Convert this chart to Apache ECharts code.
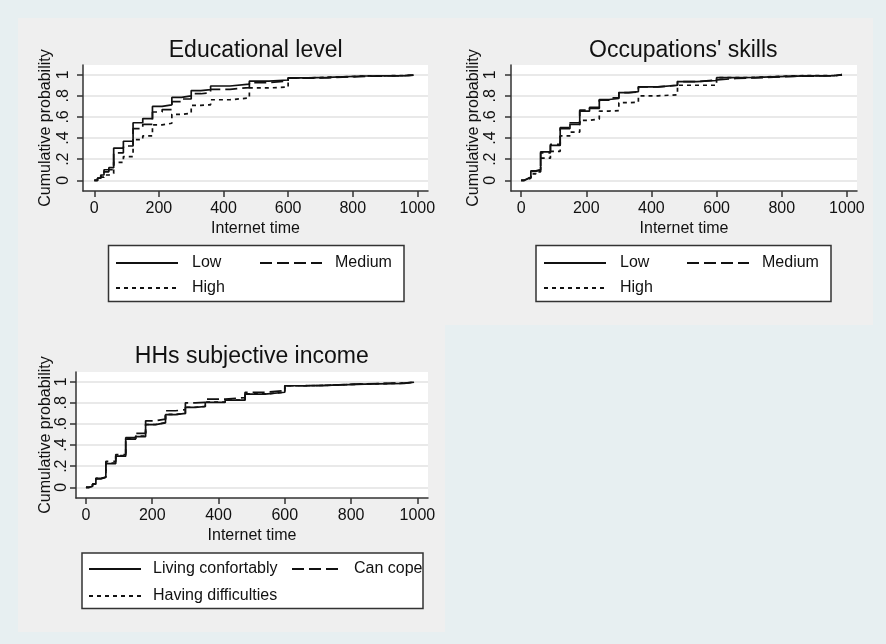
<!DOCTYPE html>
<html>
<head>
<meta charset="utf-8">
<script src="https://cdn.jsdelivr.net/npm/echarts@6/dist/echarts.min.js"></script>
<style>
  html, body { margin: 0; padding: 0; background: #e7eff1; }
  #chart { width: 886px; height: 644px; }
</style>
</head>
<body>
<div id="chart"></div>
<script>
// Empirical cumulative distributions of internet time (minutes), by group

// Panel: Educational level
const eduTime   = [0, 10, 20, 30, 45, 60, 90, 120, 150, 180, 210, 240, 270, 300, 330, 360, 420, 480, 540, 600, 660, 720, 840, 960, 988];
const eduLow    = [0, 0.02, 0.05, 0.10, 0.12, 0.305, 0.37, 0.545, 0.585, 0.70, 0.715, 0.785, 0.80, 0.85, 0.858, 0.893, 0.91, 0.94, 0.95, 0.97, 0.975, 0.988, 0.992, 0.997, 1];
const eduMedium = [0, 0.02, 0.04, 0.08, 0.10, 0.26, 0.325, 0.49, 0.53, 0.647, 0.67, 0.745, 0.77, 0.82, 0.83, 0.862, 0.878, 0.925, 0.94, 0.967, 0.97, 0.985, 0.99, 0.996, 1];
const eduHigh   = [0, 0.01, 0.03, 0.05, 0.065, 0.17, 0.225, 0.385, 0.42, 0.525, 0.54, 0.625, 0.635, 0.71, 0.715, 0.763, 0.78, 0.875, 0.883, 0.97, 0.975, 0.988, 0.992, 0.996, 1];

// Panel: Occupations' skills
const occTime   = [0, 10, 20, 30, 45, 60, 90, 120, 150, 180, 210, 240, 270, 300, 330, 360, 420, 480, 540, 600, 660, 720, 840, 962, 985];
const occLow    = [0, 0.015, 0.03, 0.09, 0.10, 0.27, 0.33, 0.49, 0.53, 0.655, 0.68, 0.765, 0.775, 0.83, 0.84, 0.885, 0.90, 0.935, 0.945, 0.972, 0.975, 0.987, 0.992, 1, 1];
const occMedium = [0, 0.015, 0.03, 0.085, 0.10, 0.26, 0.34, 0.50, 0.545, 0.665, 0.69, 0.76, 0.78, 0.83, 0.835, 0.885, 0.90, 0.935, 0.95, 0.965, 0.97, 0.985, 0.99, 1, 1];
const occHigh   = [0, 0.01, 0.02, 0.06, 0.08, 0.21, 0.274, 0.42, 0.457, 0.568, 0.58, 0.656, 0.66, 0.735, 0.74, 0.80, 0.81, 0.90, 0.90, 0.972, 0.975, 0.99, 0.993, 0.996, 1];

// Panel: HHs subjective income
const incTime        = [0, 10, 20, 30, 45, 60, 90, 120, 150, 180, 210, 240, 270, 300, 330, 360, 420, 480, 540, 600, 660, 720, 840, 960, 990];
const incComfortable = [0, 0.01, 0.03, 0.085, 0.095, 0.225, 0.295, 0.457, 0.48, 0.593, 0.61, 0.688, 0.70, 0.757, 0.765, 0.805, 0.826, 0.883, 0.90, 0.962, 0.965, 0.978, 0.985, 0.995, 1];
const incCope        = [0, 0.01, 0.03, 0.08, 0.095, 0.245, 0.31, 0.47, 0.51, 0.63, 0.645, 0.725, 0.735, 0.80, 0.805, 0.835, 0.85, 0.90, 0.915, 0.962, 0.965, 0.98, 0.988, 0.996, 1];
const incDifficult   = [0, 0.01, 0.03, 0.085, 0.095, 0.23, 0.30, 0.46, 0.485, 0.595, 0.612, 0.69, 0.70, 0.758, 0.766, 0.806, 0.827, 0.884, 0.90, 0.962, 0.965, 0.978, 0.986, 0.995, 1];

// Axis tick values and labels
const xTicks = [0, 200, 400, 600, 800, 1000];
const xTickText = ['0', '200', '400', '600', '800', '1000'];
const yTicks = [0, 0.2, 0.4, 0.6, 0.8, 1];
const yTickText = ['0', '.2', '.4', '.6', '.8', '1'];

const panelTitles = ['Educational level', "Occupations' skills", 'HHs subjective income'];
const xTitle = 'Internet time';
const yTitle = 'Cumulative probability';

const FONT = '"Liberation Sans", Arial, Helvetica, sans-serif';
const INK = '#111';
const AXIS = '#333';

function pairs(times, probs) {
  return times.map((t, i) => [t, probs[i]]);
}

function tickText(ticks, texts) {
  return (v) => {
    const k = ticks.findIndex((t) => Math.abs(t - v) < 1e-6);
    return k >= 0 ? texts[k] : '';
  };
}

const grids = [
  { left: 83,  top: 65,  width: 345, height: 126 },
  { left: 511, top: 65,  width: 346, height: 126 },
  { left: 76,  top: 372, width: 352, height: 126 }
];
const xRanges = [[-35, 1033], [-31, 1031], [-30, 1032]];
const yRange = [-0.1013, 1.092];
const yLabelMargin = [11, 12, 6];
const yNameGap = [29, 29, 20];

const dashLong = [12, 5];
const dashShort = [4, 4];

function makeSeries(name, gi, times, probs, type) {
  return {
    name: name,
    type: 'line',
    xAxisIndex: gi,
    yAxisIndex: gi,
    step: 'end',
    symbol: 'none',
    showSymbol: false,
    data: pairs(times, probs),
    lineStyle: { color: INK, width: 1.7, type: type },
    itemStyle: { color: INK },
    emphasis: { disabled: true },
    silent: true
  };
}

const series = [
  makeSeries('High', 0, eduTime, eduHigh, dashShort),
  makeSeries('Medium', 0, eduTime, eduMedium, dashLong),
  makeSeries('Low', 0, eduTime, eduLow, 'solid'),
  makeSeries('High', 1, occTime, occHigh, dashShort),
  makeSeries('Medium', 1, occTime, occMedium, dashLong),
  makeSeries('Low', 1, occTime, occLow, 'solid'),
  makeSeries('Having difficulties', 2, incTime, incDifficult, dashShort),
  makeSeries('Can cope', 2, incTime, incCope, dashLong),
  makeSeries('Living confortably', 2, incTime, incComfortable, 'solid')
];

const xAxes = grids.map((g, i) => ({
  type: 'value',
  gridIndex: i,
  min: xRanges[i][0],
  max: xRanges[i][1],
  axisLine: { show: true, onZero: false, lineStyle: { color: AXIS, width: 1.5 } },
  axisTick: { show: true, length: 6, customValues: xTicks, lineStyle: { color: AXIS, width: 1.5 } },
  axisLabel: {
    customValues: xTicks, margin: 10, fontSize: 16, color: INK, fontFamily: FONT,
    formatter: tickText(xTicks, xTickText)
  },
  splitLine: { show: false },
  name: xTitle,
  nameLocation: 'middle',
  nameGap: 30,
  nameTextStyle: { fontSize: 16, color: INK, fontFamily: FONT }
}));

const yAxes = grids.map((g, i) => ({
  type: 'value',
  gridIndex: i,
  min: yRange[0],
  max: yRange[1],
  axisLine: { show: true, onZero: false, lineStyle: { color: AXIS, width: 1.5 } },
  axisTick: { show: true, length: 6, customValues: yTicks, lineStyle: { color: AXIS, width: 1.5 } },
  axisLabel: {
    customValues: yTicks,
    rotate: 90,
    margin: yLabelMargin[i],
    fontSize: 16,
    color: INK,
    fontFamily: FONT,
    formatter: tickText(yTicks, yTickText)
  },
  splitLine: { show: true, lineStyle: { color: '#e2e2e2', width: 1.5 } },
  name: yTitle,
  nameLocation: 'middle',
  nameGap: yNameGap[i],
  nameTextStyle: { fontSize: 16, color: INK, fontFamily: FONT }
}));

const titlePos = [[255.7, 39], [683.3, 39], [251.8, 345]];
const titles = panelTitles.map((t, i) => ({
  text: t,
  left: titlePos[i][0],
  top: titlePos[i][1],
  textAlign: 'center',
  padding: 0,
  textStyle: { fontSize: 23, fontWeight: 'normal', color: INK, fontFamily: FONT }
}));

function legendItem(name, left, top, width, gap) {
  return {
    data: [name],
    left: left,
    top: top,
    padding: 0,
    itemWidth: width,
    itemHeight: 14,
    selectedMode: false,
    itemStyle: { opacity: 0 },
    textStyle: { fontSize: 16, color: INK, fontFamily: FONT, padding: [0, 0, 0, gap] }
  };
}

const legends = [
  legendItem('Low', 115, 255, 62, 9),
  legendItem('Medium', 259, 255, 62, 8),
  legendItem('High', 115, 280, 62, 9),
  legendItem('Low', 543, 255, 62, 9),
  legendItem('Medium', 686, 255, 62, 8),
  legendItem('High', 543, 280, 62, 9),
  legendItem('Living confortably', 88, 561, 52, 7),
  legendItem('Can cope', 291, 561, 51, 6),
  legendItem('Having difficulties', 88, 588, 52, 7)
];

const panelFill = '#efefef';
const graphics = [
  { type: 'rect', z: -10, silent: true, shape: { x: 18, y: 18, width: 855, height: 307 }, style: { fill: panelFill } },
  { type: 'rect', z: -10, silent: true, shape: { x: 18, y: 325, width: 427, height: 307 }, style: { fill: panelFill } },
  { type: 'rect', z: 1, silent: true, shape: { x: 108.5, y: 245.5, width: 295.5, height: 56 }, style: { fill: '#fff', stroke: AXIS, lineWidth: 1.5 } },
  { type: 'rect', z: 1, silent: true, shape: { x: 536, y: 245.5, width: 295, height: 56 }, style: { fill: '#fff', stroke: AXIS, lineWidth: 1.5 } },
  { type: 'rect', z: 1, silent: true, shape: { x: 82, y: 553, width: 341, height: 55.5 }, style: { fill: '#fff', stroke: AXIS, lineWidth: 1.5 } }
];

const chart = echarts.init(document.getElementById('chart'), null, { renderer: 'canvas' });
chart.setOption({
  animation: false,
  backgroundColor: '#e7eff1',
  title: titles,
  legend: legends,
  graphic: graphics,
  grid: grids.map((g) => Object.assign({ show: true, backgroundColor: '#fff', borderWidth: 0 }, g)),
  xAxis: xAxes,
  yAxis: yAxes,
  series: series
});
</script>
</body>
</html>
